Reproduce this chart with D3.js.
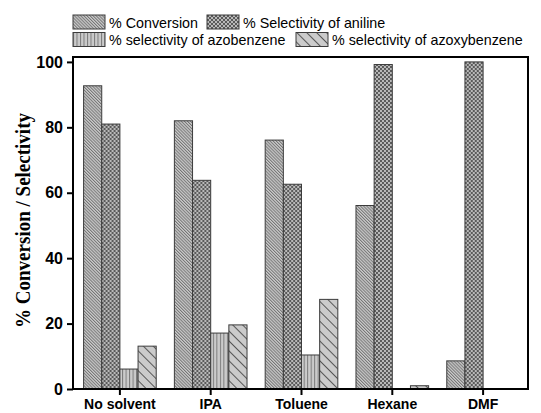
<!DOCTYPE html>
<html>
<head>
<meta charset="utf-8">
<script src="https://cdn.jsdelivr.net/npm/d3@7"></script>
<style>
  body { margin: 0; background: #fff; }
  svg { display: block; }
</style>
</head>
<body>
<svg id="chart" width="541" height="413"></svg>
<script>
// Solvent screening: conversion and product selectivity (%)
const categories = ["No solvent", "IPA", "Toluene", "Hexane", "DMF"];
const seriesNames = [
  "% Conversion",
  "% Selectivity of aniline",
  "% selectivity of azobenzene",
  "% selectivity of azoxybenzene"
];
const conversion       = [92.7, 82.0, 76.1, 56.1, 8.6];
const anilineSel       = [81.0, 63.8, 62.6, 99.2, 100.0];
const azobenzeneSel    = [6.1, 17.1, 10.4, 0, 0];
const azoxybenzeneSel  = [13.1, 19.6, 27.4, 1.0, 0];
const yTicks = [0, 20, 40, 60, 80, 100];

const seriesValues = [conversion, anilineSel, azobenzeneSel, azoxybenzeneSel];
const patternIds = ["pConv", "pAnil", "pAzo", "pAzoxy"];

const svg = d3.select("#chart");
const plot = { left: 73, right: 528, top: 57, bottom: 389 };

// ---- hatch patterns ----
const defs = svg.append("defs");
const base = "#cbcbcb";

// dense backslash hatch
const pc = defs.append("pattern").attr("id", "pConv")
  .attr("patternUnits", "userSpaceOnUse").attr("width", 2.2).attr("height", 2.2)
  .attr("patternTransform", "rotate(-45)");
pc.append("rect").attr("width", 2.2).attr("height", 2.2).attr("fill", base);
pc.append("line").attr("x1", 0.5).attr("y1", 0).attr("x2", 0.5).attr("y2", 2.2)
  .attr("stroke", "#6e6e6e").attr("stroke-width", 0.9);

// fine checker
const pa = defs.append("pattern").attr("id", "pAnil")
  .attr("patternUnits", "userSpaceOnUse").attr("width", 4).attr("height", 4);
pa.append("rect").attr("width", 4).attr("height", 4).attr("fill", "#b9b9b9");
pa.append("rect").attr("width", 2).attr("height", 2).attr("fill", "#5a5a5a");
pa.append("rect").attr("x", 2).attr("y", 2).attr("width", 2).attr("height", 2).attr("fill", "#5a5a5a");

// vertical lines
const pz = defs.append("pattern").attr("id", "pAzo")
  .attr("patternUnits", "userSpaceOnUse").attr("width", 3.5).attr("height", 4);
pz.append("rect").attr("width", 3.5).attr("height", 4).attr("fill", base);
pz.append("line").attr("x1", 0.5).attr("y1", 0).attr("x2", 0.5).attr("y2", 4)
  .attr("stroke", "#7a7a7a").attr("stroke-width", 1);

// sparse backslash hatch
const px = defs.append("pattern").attr("id", "pAzoxy")
  .attr("patternUnits", "userSpaceOnUse").attr("width", 7).attr("height", 7)
  .attr("patternTransform", "rotate(-45)");
px.append("rect").attr("width", 7).attr("height", 7).attr("fill", base);
px.append("line").attr("x1", 0.5).attr("y1", 0).attr("x2", 0.5).attr("y2", 7)
  .attr("stroke", "#4a4a4a").attr("stroke-width", 0.9);

// ---- scales ----
const x = d3.scaleBand().domain(categories)
  .range([plot.left + 1.5, plot.right + 0.5])
  .paddingInner(0.2).paddingOuter(0.1);
const xs = d3.scaleBand().domain(d3.range(seriesNames.length))
  .range([0, x.bandwidth()]);
const y = d3.scaleLinear().domain([0, 101.5]).range([plot.bottom, plot.top]);

// ---- bars ----
const groups = svg.append("g").selectAll("g")
  .data(categories).join("g")
  .attr("transform", d => `translate(${x(d)},0)`);

groups.selectAll("rect")
  .data((c, ci) => seriesValues.map((vals, si) => ({ si, v: vals[ci] })).filter(d => d.v > 0))
  .join("rect")
  .attr("x", d => xs(d.si))
  .attr("width", xs.bandwidth())
  .attr("y", d => y(d.v))
  .attr("height", d => y(0) - y(d.v))
  .attr("fill", d => `url(#${patternIds[d.si]})`)
  .attr("stroke", "#3c3c3c")
  .attr("stroke-width", 1);

// ---- frame & axes ----
svg.append("rect")
  .attr("x", plot.left).attr("y", plot.top)
  .attr("width", plot.right - plot.left).attr("height", plot.bottom - plot.top)
  .attr("fill", "none").attr("stroke", "#000").attr("stroke-width", 2);

const yAxis = svg.append("g")
  .attr("transform", `translate(${plot.left},0)`)
  .call(d3.axisLeft(y).tickValues(yTicks).tickSize(6).tickPadding(4));
yAxis.select(".domain").remove();
yAxis.selectAll(".tick line").attr("stroke", "#000").attr("stroke-width", 2);
yAxis.selectAll(".tick text")
  .attr("font-family", "Liberation Sans, Arial, sans-serif")
  .attr("font-weight", "bold").attr("font-size", 16).attr("fill", "#000");

const xAxis = svg.append("g")
  .attr("transform", `translate(0,${plot.bottom})`)
  .call(d3.axisBottom(x).tickSize(6).tickPadding(4));
xAxis.select(".domain").remove();
xAxis.selectAll(".tick line").attr("stroke", "#000").attr("stroke-width", 2);
xAxis.selectAll(".tick text")
  .attr("font-family", "Liberation Sans, Arial, sans-serif")
  .attr("font-weight", "bold").attr("font-size", 14).attr("fill", "#000");

// y-axis title (condensed serif)
svg.append("text")
  .attr("transform", `translate(30,${(113 + 328) / 2}) rotate(-90)`)
  .attr("text-anchor", "middle")
  .attr("font-family", "Liberation Serif, Times New Roman, serif")
  .attr("font-weight", "bold").attr("font-size", 22)
  .attr("textLength", 215).attr("lengthAdjust", "spacingAndGlyphs")
  .text("% Conversion / Selectivity");

// ---- legend ----
const legendItems = [
  { si: 0, x: 73, y: 15 },
  { si: 1, x: 207, y: 15 },
  { si: 2, x: 73, y: 32.5 },
  { si: 3, x: 296, y: 32.5 }
];
const lg = svg.append("g").selectAll("g").data(legendItems).join("g")
  .attr("transform", d => `translate(${d.x},${d.y})`);
lg.append("rect")
  .attr("width", 32).attr("height", 14)
  .attr("fill", d => `url(#${patternIds[d.si]})`)
  .attr("stroke", "#3c3c3c").attr("stroke-width", 1);
lg.append("text")
  .attr("x", 36).attr("y", 12.5)
  .attr("font-family", "Liberation Sans, Arial, sans-serif")
  .attr("font-size", 14.3).attr("fill", "#000")
  .text(d => seriesNames[d.si]);
</script>
</body>
</html>
